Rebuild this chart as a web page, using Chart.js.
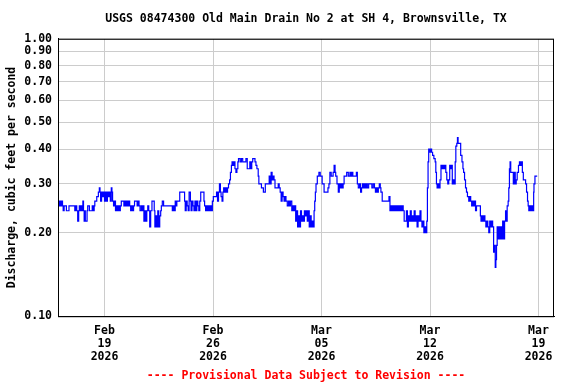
<!DOCTYPE html>
<html lang="en">
<head>
<meta charset="UTF-8">
<title>USGS 08474300 Old Main Drain No 2</title>
<style>
  html, body { margin: 0; padding: 0; background: #fff; }
  canvas { display: block; }
</style>
</head>
<body>
<canvas id="chart" width="576" height="384"></canvas>
<script src="https://cdn.jsdelivr.net/npm/chart.js@4.4.0/dist/chart.umd.min.js"></script>
<script>
// hours since Feb 16 2026 00:00, discharge in cfs
const hours = [
  0,1.5,3,4.5,6,7,8,9.5,13,17,26,27.5,29,30.5,32,33,34,35.5,37,38.5,39.5,40.5,41.3,42.3,45,46,48.6,53,54.5,56,57,60,62.5,64,65,66,67.5,69,70.5,72,73.5,75,76.5,78,79.5,81,82.5,83.5,84.5,86,87.5,89,90.5,92,93.5,95,96.5,98,102,103.5,105,106.5,108,109.5,111,112.5,114,115.5,117,118.5,
  122.5,124,125.5,127,129,130.5,132,133,134.5,136,137.5,139,140.5,142,143.5,145.5,149,150,151.5,153,154.5,156,157.5,159,160,161.5,163.5,177,178.5,180,181.5,182.5,184,188.5,196,197,198.5,200,201.5,203,205,206,207.5,209,210.5,212,213.5,215,216.5,218,219.5,221,226,227,228.5,230,231.5,233,234.5,236,237.5,239,240.5,
  245.5,247,248.5,250,251.5,252.5,254,255.3,256.5,258,259.5,261,262.5,264,265.7,267,268.5,269.5,271,272.5,274,275.5,277,278.5,279.5,282,284,286,291,293,297,298.5,300,301.5,305,306.5,308,310,311,315,318,321,327,328.5,330,331.5,333,334.5,336,341,342.5,344,345.5,347,348.5,350,351.5,353,355,357,358.5,360,362,363.5,365,366.5,368,369.5,
  371,372.5,374,375.5,377,378.5,380,381.5,383,384.5,386,387.5,389,390.5,392,393.5,395,396.5,397.5,398.5,399.5,401.5,404,406,409,412,418,419.5,421,423,426,427.5,429,430,432,434,435.5,437,438.5,440,441.5,443,447,449.5,452,453.5,455,456.5,462,463.5,465,467,468.5,470,471.5,473,474.5,476,477.5,479,481,486,488,490,491.5,493,
  494.5,496,497.5,499,500,502,512.5,514,515.5,516.5,518,519.5,521,522.5,524,525.5,527,528.5,530,531.5,533,534.5,536,539.5,541,542.5,544,545.5,547,548.5,550,551.5,553,554.5,556,557.5,559,560.5,562,563.5,565,566.5,568,569.5,571,572,573,574,575,577,578.5,580,582,584,585,586,587,588.5,590,591.5,593,594.5,596,597.5,599,600.5,602,603.5,605,606.5,607.5,609,610.5,612,613.5,615,616,
  617.5,618.5,619.5,623.5,625.5,627,628,629.5,631,632.5,634,636,637.5,639,640.5,642,643.5,645,646.5,648,654,655,656.5,658,659.5,661,662.5,664,665.5,667,668.5,670,671.5,673,674.5,675.5,677,678,679,680,681,682.5,684,685.5,687,688.5,690,691.5,693,694,695.5,697,698,699,700,701,705,706.5,708,709.5,711,713,714.5,716,717.5,719,720.5,724,725.5,727,728,729,730.5,732,733.5,735,736.5,737,738.5,740.5,742
];
const flow = [
  .25,.26,.25,.26,.25,.26,.25,.24,.25,.24,.25,.24,.25,.24,.22,.24,.25,.24,.25,.24,.26,.24,.22,.24,.22,.24,.25,.24,.25,.24,.25,.26,.27,.28,.29,.28,.26,.28,.27,.28,.26,.28,.26,.28,.27,.28,.26,.29,.28,.26,.25,.26,.24,.25,.24,.25,.24,.25,.26,.25,.26,.25,.26,.25,.26,.25,.24,.25,.24,.25,
  .26,.25,.26,.25,.24,.25,.24,.25,.22,.24,.22,.24,.25,.24,.21,.24,.26,.24,.21,.23,.21,.24,.21,.23,.24,.25,.26,.25,.24,.25,.24,.26,.25,.26,.28,.26,.24,.26,.25,.24,.28,.26,.24,.26,.25,.24,.26,.24,.26,.25,.24,.26,.28,.26,.25,.24,.25,.24,.25,.24,.25,.24,.26,
  .27,.28,.26,.28,.30,.28,.27,.26,.28,.29,.28,.29,.28,.29,.30,.31,.33,.35,.36,.35,.36,.34,.33,.34,.36,.37,.36,.37,.36,.37,.34,.36,.34,.36,.37,.36,.35,.34,.32,.30,.29,.28,.30,.32,.30,.33,.31,.32,.31,.29,.30,.29,.28,.26,.28,.27,.26,.27,.26,.25,.26,.25,.26,.24,.25,.24,.25,.22,
  .24,.21,.23,.21,.24,.22,.23,.22,.24,.23,.24,.22,.24,.21,.23,.21,.22,.21,.24,.26,.28,.30,.32,.33,.32,.30,.28,.29,.30,.33,.32,.33,.35,.33,.32,.30,.28,.30,.29,.30,.29,.30,.32,.33,.32,.33,.32,.33,.32,.33,.30,.29,.30,.28,.29,.30,.29,.30,.29,.30,.29,.30,.29,.30,.29,.28,
  .29,.28,.29,.30,.29,.28,.26,.27,.24,.25,.24,.25,.24,.25,.24,.25,.24,.25,.24,.25,.24,.25,.24,.22,.24,.21,.23,.22,.24,.22,.23,.22,.24,.22,.23,.21,.23,.22,.24,.22,.21,.22,.20,.21,.20,.22,.29,.36,.40,.39,.40,.39,.38,.37,.36,.33,.30,.29,.30,.29,.31,.35,.34,.35,.34,.35,.33,.31,.30,.31,.35,.34,.35,.30,.31,.30,.36,
  .41,.42,.44,.42,.38,.36,.34,.33,.31,.29,.28,.27,.26,.27,.26,.25,.26,.25,.26,.24,.25,.23,.22,.23,.22,.23,.22,.21,.22,.21,.20,.22,.21,.22,.21,.17,.18,.15,.16,.18,.21,.19,.21,.19,.21,.19,.22,.19,.22,.24,.22,.25,.26,.29,.34,.36,.33,.30,.33,.30,.31,.33,.35,.36,.35,.36,.33,.31,.30,.28,.26,.25,.24,.25,.24,.25,.24,.28,.30,.32,.32
];
const yTicks = [0.1, 0.2, 0.3, 0.4, 0.5, 0.6, 0.7, 0.8, 0.9, 1.0];
const xTickHours = [72, 240, 408, 576, 744];
const xTickLabels = [['Feb', '19', '2026'], ['Feb', '26', '2026'], ['Mar', '05', '2026'], ['Mar', '12', '2026'], ['Mar', '19', '2026']];

const points = hours.map((h, i) => ({ x: h, y: flow[i] }));
const monoBold = { family: "'DejaVu Sans Mono', 'Liberation Mono', monospace", size: 11.5, weight: 'bold', lineHeight: 1.13 };

const frame = {
  id: 'frame',
  afterDraw(chart) {
    const { ctx, chartArea: a } = chart;
    ctx.save();
    ctx.strokeStyle = '#000';
    ctx.lineWidth = 1;
    ctx.strokeRect(a.left + 0.5, a.top + 0.5, a.right - a.left - 1, a.bottom - a.top);
    ctx.restore();
  }
};

new Chart(document.getElementById('chart').getContext('2d'), {
  type: 'line',
  data: {
    datasets: [{
      data: points,
      borderColor: '#0000ff',
      borderWidth: 1.2,
      pointRadius: 0,
      stepped: 'after',
      fill: false
    }]
  },
  options: {
    responsive: false,
    animation: false,
    layout: { padding: { left: 0, right: 22, top: 0, bottom: 0 } },
    plugins: {
      legend: { display: false },
      tooltip: { enabled: false },
      title: {
        display: true,
        fullSize: false,
        text: 'USGS 08474300 Old Main Drain No 2 at SH 4, Brownsville, TX',
        color: '#000',
        font: { ...monoBold, lineHeight: 1.2 },
        padding: { top: 12, bottom: 13 }
      },
      subtitle: {
        display: true,
        fullSize: false,
        position: 'bottom',
        text: '---- Provisional Data Subject to Revision ----',
        color: '#ff0000',
        font: { ...monoBold, lineHeight: 1.2 },
        padding: { top: 9, bottom: 1 }
      }
    },
    scales: {
      x: {
        type: 'linear',
        min: 0,
        max: 768,
        afterBuildTicks: s => { s.ticks = xTickHours.map(v => ({ value: v })); },
        afterFit: s => { s.height = 44; },
        ticks: {
          color: '#000',
          font: monoBold,
          padding: 8,
          maxRotation: 0,
          autoSkip: false,
          callback: (v, i) => xTickLabels[i]
        },
        grid: { color: '#cccccc', lineWidth: 1, drawTicks: false },
        border: { display: true, color: '#000' }
      },
      y: {
        type: 'logarithmic',
        min: 0.1,
        max: 1.0,
        afterBuildTicks: s => { s.ticks = yTicks.map(v => ({ value: v })); },
        afterFit: s => { s.width = 58; },
        ticks: {
          color: '#000',
          font: monoBold,
          padding: 6,
          autoSkip: false,
          callback: v => Number(v).toFixed(2)
        },
        grid: { color: '#cccccc', lineWidth: 1, drawTicks: false },
        border: { display: true, color: '#000' },
        title: {
          display: true,
          text: 'Discharge, cubic feet per second',
          color: '#000',
          font: { ...monoBold, lineHeight: 1.2 },
          padding: { top: 5, bottom: 0 }
        }
      }
    }
  },
  plugins: [frame]
});
</script>
</body>
</html>
